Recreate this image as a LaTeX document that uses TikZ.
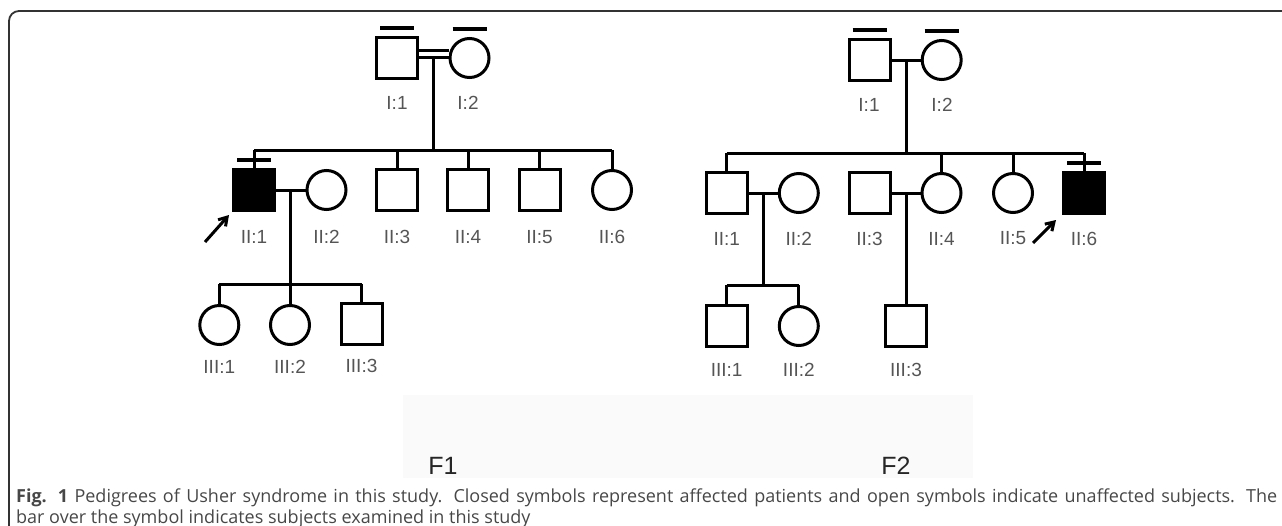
\documentclass[tikz,border=0pt]{standalone}
\usepackage{fontspec}
\setmainfont{Liberation Sans}
\newfontfamily\capfont{Open Sans}
\usetikzlibrary{arrows.meta,calc}
\definecolor{labgray}{HTML}{555555}
\definecolor{capgray}{HTML}{474747}
\tikzset{
  male/.style={draw, line width=3pt, minimum size=41pt, inner sep=0pt},
  female/.style={draw, circle, line width=3pt, minimum size=39pt, inner sep=0pt},
  affected/.style={fill=black},
  lab/.style={text=labgray, font=\fontsize{19}{22}\selectfont, inner sep=0pt},
  link/.style={line width=3pt},
  examined/.style={line width=3.2pt},
  proband/.style={line width=3pt, -{Straight Barb[length=8pt, width=10pt]}},
}
\newcommand{\exambar}[1]{\draw[examined] ([xshift=-17pt, yshift=8pt]#1.north) -- ([xshift=17pt, yshift=8pt]#1.north);}
\begin{document}
\begin{tikzpicture}[x=1pt, y=-1pt]
  \useasboundingbox (0,0) rectangle (1282,525);
  % frame and shaded band
  \fill[black!2] (403,395) rectangle (973,478);
  \draw[line width=1.8pt, black!80, rounded corners=10pt] (9,530) -- (9,11) -- (1290,11);

  % ---- F1 ----
  \node[male] (i1) at (397,58) {};
  \node[female] (i2) at (469.5,58) {};
  \node[male, affected] (ii1) at (254,190) {};
  \node[female] (ii2) at (326.5,190) {};
  \node[male] (ii3) at (397,190) {};
  \node[male] (ii4) at (468,190) {};
  \node[male] (ii5) at (539.5,190) {};
  \node[female] (ii6) at (612,190) {};
  \node[female] (iii1) at (219.3,325) {};
  \node[female] (iii2) at (290,325) {};
  \node[male] (iii3) at (361.5,324) {};
  \coordinate (sibA) at (0,150);
  \coordinate (sibB) at (0,284);

  \draw[link, double, double distance=3.5pt] ([yshift=4pt]i1.east) -- ([yshift=4pt]i2.west);
  \coordinate (mA) at ($(i1.east)!0.5!(i2.west)$);
  \draw[link] (mA) -- (mA |- sibA);
  \draw[link] (ii1.north |- sibA) -- (ii6.north |- sibA);
  \foreach \c in {ii1,ii3,ii4,ii5,ii6}
    \draw[link] (\c.north) -- (\c.north |- sibA);
  \draw[link] (ii1.east) -- (ii2.west);
  \coordinate (mB) at ($(ii1.east)!0.5!(ii2.west)$);
  \draw[link] (mB) -- (mB |- sibB);
  \draw[link] (iii1.north |- sibB) -- (iii3.north |- sibB);
  \foreach \c in {iii1,iii2,iii3}
    \draw[link] (\c.north) -- (\c.north |- sibB);
  \exambar{i1} \exambar{i2} \exambar{ii1}

  \node[lab] at (397,103) {I:1};
  \node[lab] at (468,103) {I:2};
  \foreach \c/\t in {ii1/II:1,ii2/II:2,ii3/II:3,ii4/II:4,ii5/II:5,ii6/II:6}
    \node[lab] at ([yshift=-47pt]\c) {\t};
  \foreach \c/\t in {iii1/III:1,iii2/III:2,iii3/III:3}
    \node[lab] at ([yshift=-42pt]\c) {\t};
  \coordinate (pA) at (205,242);
  \draw[proband] (pA) -- ([xshift=-3pt, yshift=-3pt]ii1.south west);

  % ---- F2 ----
  \node[male] (j1) at (869.5,60) {};
  \node[female] (j2) at (941.7,60) {};
  \node[male] (jj1) at (726.7,193) {};
  \node[female] (jj2) at (798.8,193) {};
  \node[male] (jj3) at (869.5,193) {};
  \node[female] (jj4) at (941.5,193) {};
  \node[female] (jj5) at (1013,193) {};
  \node[male, affected] (jj6) at (1084,193) {};
  \node[male] (jjj1) at (726.7,325.5) {};
  \node[female] (jjj2) at (798.8,326) {};
  \node[male] (jjj3) at (906,325.5) {};
  \coordinate (sibC) at (0,153);
  \coordinate (sibD) at (0,285);

  \draw[link] (j1.east) -- (j2.west);
  \coordinate (mC) at ($(j1.east)!0.5!(j2.west)$);
  \draw[link] (mC) -- (mC |- sibC);
  \draw[link] (jj1.north |- sibC) -- (jj6.north |- sibC);
  \foreach \c in {jj1,jj4,jj5,jj6}
    \draw[link] (\c.north) -- (\c.north |- sibC);
  \draw[link] (jj1.east) -- (jj2.west);
  \coordinate (mD) at ($(jj1.east)!0.5!(jj2.west)$);
  \draw[link] (mD) -- (mD |- sibD);
  \draw[link] (jjj1.north |- sibD) -- (jjj2.north |- sibD);
  \foreach \c in {jjj1,jjj2}
    \draw[link] (\c.north) -- (\c.north |- sibD);
  \draw[link] (jj3.east) -- (jj4.west);
  \coordinate (mE) at ($(jj3.east)!0.5!(jj4.west)$);
  \draw[link] (mE) -- (jjj3.north);
  \exambar{j1} \exambar{j2} \exambar{jj6}

  \node[lab] at (869,105) {I:1};
  \node[lab] at (942,105) {I:2};
  \foreach \c/\t in {jj1/II:1,jj2/II:2,jj3/II:3,jj4/II:4,jj5/II:5,jj6/II:6}
    \node[lab] at ([yshift=-45.5pt]\c) {\t};
  \foreach \c/\t in {jjj1/III:1,jjj2/III:2,jjj3/III:3}
    \node[lab] at ([yshift=-44pt]\c) {\t};
  \coordinate (pB) at (1033,243);
  \draw[proband] (pB) -- ([xshift=-6pt, yshift=-5pt]jj6.south west);

  % family tags and caption
  \node[font=\fontsize{25}{28}\selectfont, text=black!85] (famA) at (443,466) {F1};
  \node[font=\fontsize{25}{28}\selectfont, text=black!85] (famB) at (896,466) {F2};
  \node[anchor=base west, inner sep=0pt, text width=1261pt, align=justify,
        text=capgray, font=\capfont\fontsize{18}{21}\selectfont] (cap) at (16,502)
    {\textbf{Fig. 1} Pedigrees of Usher syndrome in this study. Closed symbols represent affected patients and open symbols indicate unaffected subjects. The\linebreak bar over the symbol indicates subjects examined in this study};
\end{tikzpicture}
\end{document}
